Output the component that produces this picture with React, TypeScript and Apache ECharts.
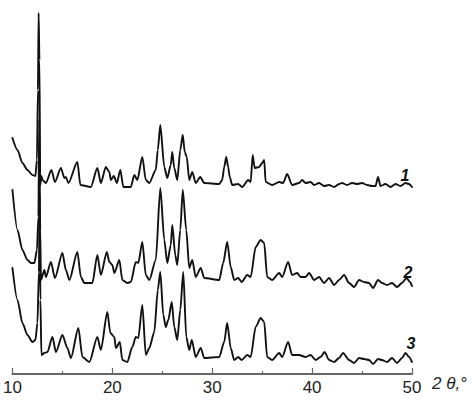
import React, { useEffect, useRef } from "react";
import * as echarts from "echarts";

// 2θ (degrees) and intensity (arbitrary units, curves stacked with offsets)
const curve1: [number, number][] = [
  [10.0, 236], [10.5, 224], [11.0, 211], [11.5, 204], [12.0, 199], [12.3, 198], [12.45, 214], [12.55, 284],
  [12.62, 361], [12.7, 314], [12.78, 189], [12.9, 198], [13.0, 194], [13.35, 191], [13.9, 204], [14.25, 192],
  [14.85, 206], [15.2, 196], [15.35, 197], [15.6, 191], [16.5, 212], [16.8, 189], [17.85, 187], [18.5, 206],
  [18.85, 191], [19.35, 207], [19.7, 202], [19.85, 194], [20.15, 198], [20.45, 191], [20.8, 204], [21.1, 187],
  [21.85, 187], [22.2, 199], [22.5, 194], [23.0, 217], [23.35, 194], [23.7, 191], [24.35, 204], [24.55, 224],
  [24.8, 249], [25.2, 207], [25.5, 196], [25.85, 209], [26.0, 222], [26.2, 206], [26.5, 194], [26.8, 224],
  [27.05, 239], [27.25, 222], [27.45, 217], [27.7, 194], [28.0, 202], [28.35, 191], [28.8, 197], [29.2, 191],
  [30.7, 190], [31.0, 194], [31.2, 207], [31.4, 217], [31.6, 207], [31.75, 197], [32.0, 189], [32.6, 190],
  [33.0, 187], [33.6, 194], [33.85, 192], [34.05, 219], [34.25, 206], [34.7, 207], [35.0, 211], [35.2, 214],
  [35.35, 192], [36.0, 189], [36.7, 192], [37.1, 191], [37.5, 200], [38.0, 189], [38.7, 191], [39.0, 194],
  [39.35, 191], [39.85, 192], [40.2, 189], [40.7, 191], [41.2, 188], [41.7, 189], [42.2, 187], [42.7, 190],
  [43.0, 191], [43.5, 189], [44.0, 191], [44.5, 190], [45.0, 191], [45.5, 189], [46.0, 188], [46.35, 188],
  [46.6, 197], [46.85, 188], [47.35, 190], [47.85, 187], [48.35, 190], [48.85, 188], [49.35, 191], [49.7, 190],
  [50.0, 187],
];

const curve2: [number, number][] = [
  [10.0, 184], [10.5, 144], [11.0, 124], [11.5, 114], [11.85, 111], [12.2, 111], [12.45, 124], [12.6, 157],
  [12.68, 254], [12.78, 144], [12.85, 94], [13.2, 104], [13.35, 97], [13.85, 112], [14.25, 96], [15.0, 121],
  [15.35, 104], [15.7, 94], [16.5, 122], [16.85, 97], [17.2, 91], [18.0, 91], [18.5, 119], [18.85, 99],
  [19.45, 122], [19.7, 112], [20.0, 109], [20.2, 101], [20.7, 114], [21.0, 94], [21.5, 91], [21.85, 92],
  [22.35, 112], [22.6, 111], [23.0, 132], [23.35, 99], [23.7, 94], [24.35, 114], [24.8, 186], [25.2, 134],
  [25.5, 111], [25.85, 129], [26.0, 149], [26.3, 119], [26.5, 109], [26.8, 144], [27.05, 184], [27.4, 144],
  [27.7, 106], [28.0, 114], [28.35, 97], [28.85, 106], [29.2, 96], [30.7, 94], [31.1, 111], [31.5, 132],
  [31.85, 107], [32.2, 94], [32.6, 96], [32.95, 92], [33.5, 99], [33.85, 97], [34.35, 127], [34.85, 134],
  [35.2, 131], [35.5, 97], [36.0, 94], [36.7, 101], [37.0, 97], [37.6, 112], [38.0, 99], [38.5, 101],
  [38.85, 97], [39.35, 97], [39.7, 101], [40.2, 94], [40.7, 97], [41.2, 91], [41.7, 96], [42.2, 89],
  [42.7, 94], [43.2, 99], [43.7, 91], [44.2, 87], [44.7, 94], [45.2, 92], [45.7, 91], [46.1, 86],
  [46.6, 94], [47.0, 91], [47.5, 89], [48.0, 91], [48.5, 87], [49.0, 91], [49.45, 96], [49.8, 92],
  [50.0, 88],
];

const curve3: [number, number][] = [
  [10.0, 106], [10.5, 74], [11.0, 51], [11.5, 39], [12.0, 32], [12.3, 34], [12.5, 51], [12.65, 102],
  [12.72, 179], [12.8, 74], [12.9, 19], [13.2, 21], [13.5, 22], [14.0, 37], [14.35, 22], [15.0, 39],
  [15.5, 26], [15.85, 16], [16.6, 46], [17.0, 17], [17.7, 12], [18.5, 37], [18.85, 24], [19.5, 62],
  [19.8, 41], [20.2, 37], [20.35, 26], [20.75, 32], [21.0, 14], [21.5, 12], [22.0, 27], [22.35, 37],
  [22.6, 36], [23.0, 69], [23.35, 19], [23.7, 26], [24.2, 42], [24.55, 84], [24.8, 102], [25.1, 59],
  [25.35, 47], [25.6, 54], [25.95, 72], [26.2, 47], [26.5, 34], [26.8, 64], [27.1, 102], [27.4, 37],
  [27.7, 24], [27.95, 34], [28.35, 17], [28.85, 26], [29.2, 16], [30.7, 17], [31.2, 32], [31.5, 51],
  [31.85, 26], [32.2, 14], [32.6, 17], [32.95, 14], [33.5, 19], [33.85, 17], [34.35, 47], [34.85, 56],
  [35.2, 52], [35.5, 17], [36.0, 14], [36.7, 21], [37.0, 17], [37.6, 32], [38.0, 19], [38.7, 19],
  [39.35, 17], [39.85, 19], [40.35, 14], [40.85, 17], [41.25, 22], [41.7, 14], [42.2, 12], [42.7, 16],
  [43.1, 21], [43.7, 14], [44.2, 11], [44.7, 16], [45.2, 15], [45.7, 14], [46.1, 10], [46.6, 15],
  [47.0, 14], [47.5, 12], [48.0, 16], [48.5, 11], [49.0, 16], [49.35, 21], [49.7, 17], [50.0, 12],
];

const curveLabels = ["1", "2", "3"];
const xTicks = [10, 20, 30, 40, 50];
const axisTitle = "2 θ,°";

export default function App() {
  const ref = useRef<HTMLDivElement>(null);
  useEffect(() => {
    if (!ref.current) return;
    const chart = echarts.init(ref.current, null, { renderer: "svg" });
    const lineSeries = (data: [number, number][]) => ({
      type: "line",
      data,
      showSymbol: false,
      smooth: 0.25,
      smoothMonotone: "x",
      lineStyle: { color: "#111", width: 1.9, join: "round", cap: "round" },
      z: 3,
    });
    const font = "Liberation Sans, Arial, sans-serif";
    const labelStyle = (text: string) => ({
      text, fontSize: 16, fontStyle: "italic", fontWeight: "bold", fill: "#111",
      align: "center", verticalAlign: "middle", fontFamily: font,
    });
    chart.setOption({
      animation: false,
      backgroundColor: "#fff",
      grid: { left: 11.5, right: 60, top: 0, bottom: 32, containLabel: false },
      xAxis: {
        type: "value",
        min: xTicks[0],
        max: xTicks[xTicks.length - 1],
        interval: 10,
        axisLine: { show: true, lineStyle: { color: "#666", width: 2 } },
        axisTick: { show: true, inside: true, length: 6, lineStyle: { color: "#666", width: 1.2 } },
        minorTick: { show: true, splitNumber: 2, length: 3, lineStyle: { color: "#666", width: 1.2 } },
        axisLabel: { fontSize: 17, color: "#222", margin: 5, fontFamily: font },
        splitLine: { show: false },
      },
      yAxis: { type: "value", min: 0, max: 374, show: false },
      series: [lineSeries(curve1), lineSeries(curve2), lineSeries(curve3)],
      graphic: [
        {
          type: "text", left: 432, top: 375,
          style: { text: axisTitle, fontSize: 17, fontStyle: "italic", fill: "#222", fontFamily: font },
        },
        { type: "text", x: 405, y: 175, style: labelStyle(curveLabels[0]) },
        { type: "text", x: 408, y: 272, style: labelStyle(curveLabels[1]) },
        { type: "text", x: 411, y: 343, style: labelStyle(curveLabels[2]) },
      ],
    });
    return () => chart.dispose();
  }, []);
  return <div ref={ref} style={{ width: 472, height: 406, position: "absolute", left: 0, top: 0 }} />;
}
